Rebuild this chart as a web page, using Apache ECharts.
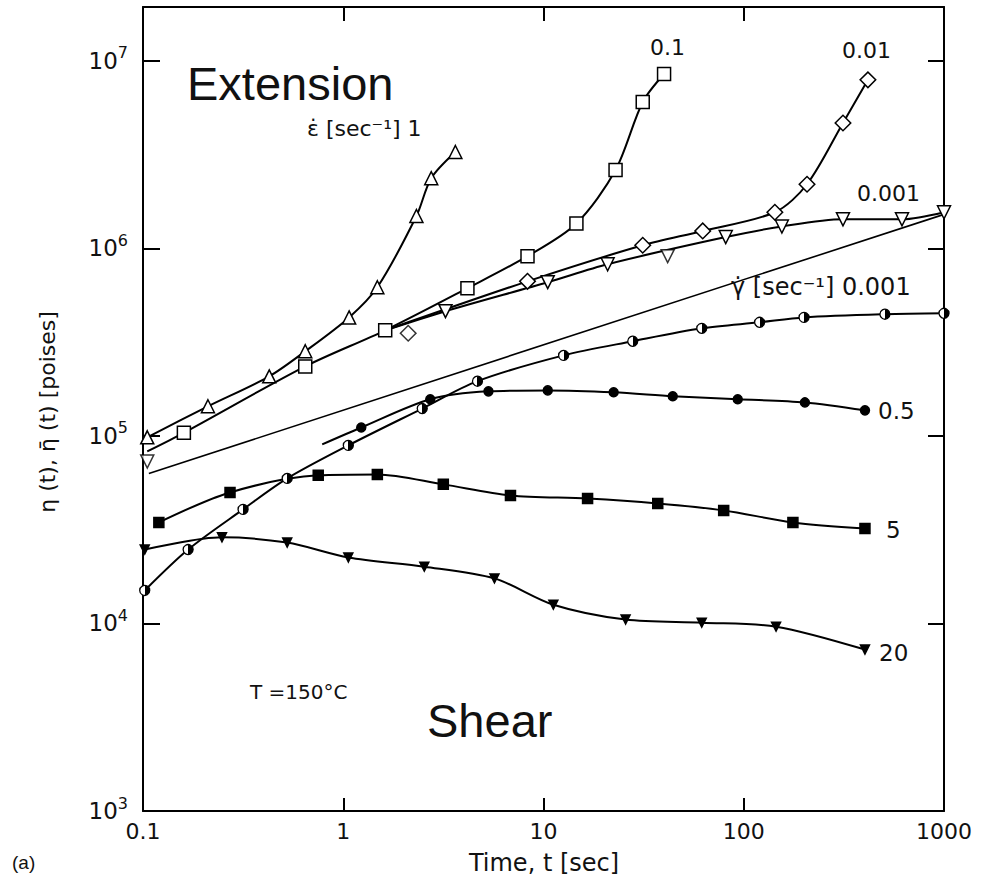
<!DOCTYPE html>
<html>
<head>
<meta charset="utf-8">
<style>
  html, body { margin: 0; padding: 0; background: #fff; }
  #viscosity_chart { width: 990px; height: 878px; }
</style>
<script src="https://cdn.jsdelivr.net/npm/echarts@6.0.0/dist/echarts.min.js"></script>
</head>
<body>
<div id="viscosity_chart"></div>
<script>
// extension, rate 1 sec-1 (open up triangles)
const ext1Time = [0.105, 0.211, 0.427, 0.646, 1.07, 1.48, 2.32, 2.75, 3.63];
const ext1Visc = [9.84e4, 1.44e5, 2.08e5, 2.83e5, 4.29e5, 6.21e5, 1.49e6, 2.37e6, 3.27e6];

// extension, rate 0.1 (open squares), line starts on the common envelope
const ext01Start = [0.105, 8.28e4];
const ext01Time = [0.160, 0.646, 1.62, 4.17, 8.32, 14.6, 22.9, 31.3, 40.0];
const ext01Visc = [1.04e5, 2.35e5, 3.66e5, 6.14e5, 9.10e5, 1.36e6, 2.62e6, 6.04e6, 8.52e6];

// extension, rate 0.01 (open diamonds)
const ext001Start = [1.62, 3.66e5];
const ext001Time = [8.32, 31.3, 62.4, 143, 207, 313, 417];
const ext001Visc = [6.68e5, 1.04e6, 1.24e6, 1.56e6, 2.20e6, 4.67e6, 7.93e6];
const ext001LoneTime = [2.11];
const ext001LoneVisc = [3.53e5];

// extension, rate 0.001 (open down triangles)
const ext0001Start = [1.62, 3.66e5];
const ext0001Time = [3.24, 10.5, 20.9, 81.3, 155, 313, 617, 1000];
const ext0001Visc = [4.63e5, 6.61e5, 8.24e5, 1.15e6, 1.31e6, 1.43e6, 1.43e6, 1.56e6];
const ext0001LoneTime = [0.105, 41.7];
const ext0001LoneVisc = [7.31e4, 9.10e5];

// shear, rate 0.001 (half filled circles)
const sh0001Time = [0.102, 0.168, 0.316, 0.525, 1.06, 2.48, 4.68, 12.6, 27.9, 61.7, 120, 200, 507, 1000];
const sh0001Visc = [1.50e4, 2.48e4, 4.06e4, 5.94e4, 8.91e4, 1.40e5, 1.96e5, 2.69e5, 3.20e5, 3.75e5, 4.04e5, 4.29e5, 4.46e5, 4.51e5];

// shear, rate 0.5 (filled circles)
const sh05Start = [0.785, 9.02e4];
const sh05Time = [1.23, 2.72, 5.31, 10.5, 22.4, 44.2, 93.3, 202, 403];
const sh05Visc = [1.11e5, 1.57e5, 1.73e5, 1.75e5, 1.71e5, 1.63e5, 1.57e5, 1.51e5, 1.37e5];

// shear, rate 5 (filled squares)
const sh5Time = [0.120, 0.272, 0.750, 1.48, 3.16, 6.84, 16.6, 37.2, 79.4, 176, 403];
const sh5Visc = [3.46e4, 5.00e4, 6.17e4, 6.24e4, 5.52e4, 4.82e4, 4.64e4, 4.37e4, 4.01e4, 3.46e4, 3.21e4];

// shear, rate 20 (filled down triangles)
const sh20Time = [0.102, 0.248, 0.525, 1.06, 2.54, 5.69, 11.2, 25.7, 61.7, 145, 403];
const sh20Visc = [2.48e4, 2.88e4, 2.70e4, 2.25e4, 2.01e4, 1.74e4, 1.26e4, 1.05e4, 1.01e4, 9.62e3, 7.26e3];

// straight guide line
const guideTime = [0.107, 1000];
const guideVisc = [6.31e4, 1.52e6];

const xTicks = [0.1, 1, 10, 100, 1000];

function pairs(ts, vs) {
  return ts.map(function (t, i) { return [t, vs[i]]; });
}
function withStart(start, ts, vs) {
  return [{ value: start, symbol: 'none' }].concat(pairs(ts, vs));
}

const FONT = 'DejaVu Sans';
const halfFill = new echarts.graphic.LinearGradient(0, 0, 1, 0, [
  { offset: 0, color: '#fff' }, { offset: 0.5, color: '#fff' },
  { offset: 0.5, color: '#000' }, { offset: 1, color: '#000' }
]);

function curve(data, symbol, size, fill, extra) {
  return Object.assign({
    type: 'line',
    data: data,
    smooth: 0.3,
    symbol: symbol,
    symbolSize: size,
    showAllSymbol: true,
    lineStyle: { color: '#000', width: 2 },
    itemStyle: { color: fill, borderColor: '#000', borderWidth: 1.5 },
    emphasis: { disabled: true },
    z: 3
  }, extra || {});
}
function lone(data, symbol, size, extra) {
  return Object.assign({
    type: 'scatter',
    data: data,
    symbol: symbol,
    symbolSize: size,
    itemStyle: { color: '#fff', borderColor: '#000', borderWidth: 1.5 },
    z: 4
  }, extra || {});
}

var dom = document.getElementById('viscosity_chart');
var myChart = echarts.init(dom, null, { renderer: 'svg' });

function txt(x, y, text, size, family, align) {
  return {
    type: 'text', x: x, y: y, z: 10,
    style: {
      text: text, fill: '#111',
      font: size + 'px "' + (family || FONT) + '"',
      textAlign: align || 'left', textVerticalAlign: 'middle'
    }
  };
}

var option = {
  animation: false,
  backgroundColor: '#fff',
  grid: { left: 143, right: 46, top: 7, bottom: 67 },
  xAxis: [
    {
      type: 'log', logBase: 10, min: 0.1, max: 1000,
      axisLine: { lineStyle: { color: '#000', width: 2 } },
      axisTick: { inside: true, length: 13, lineStyle: { color: '#000', width: 2 } },
      splitLine: { show: false },
      axisLabel: {
        fontFamily: FONT, fontSize: 22, color: '#111', margin: 9,
        formatter: function (v) {
          return xTicks.some(function (k) { return Math.abs(k - v) < 1e-9 * k; }) ? String(v) : '';
        }
      }
    },
    {
      type: 'log', logBase: 10, min: 0.1, max: 1000, position: 'top',
      axisLine: { lineStyle: { color: '#000', width: 2 } },
      axisTick: { inside: true, length: 14, lineStyle: { color: '#000', width: 2 } },
      axisLabel: { show: false },
      splitLine: { show: false }
    }
  ],
  yAxis: [
    {
      type: 'log', logBase: 10, min: 1000, max: 1.94e7,
      axisLine: { lineStyle: { color: '#000', width: 2 } },
      axisTick: { inside: true, length: 17, lineStyle: { color: '#000', width: 2 } },
      splitLine: { show: false },
      axisLabel: {
        margin: 15, color: '#111',
        formatter: function (v) {
          var e = Math.log10(v);
          if (Math.abs(e - Math.round(e)) > 1e-6) return '';
          return '{b|10}{s|' + Math.round(e) + '}';
        },
        rich: {
          b: { fontFamily: FONT, fontSize: 23, color: '#111' },
          s: { fontFamily: FONT, fontSize: 16, color: '#111', padding: [0, 0, 16, 0] }
        }
      }
    },
    {
      type: 'log', logBase: 10, min: 1000, max: 1.94e7, position: 'right',
      axisLine: { lineStyle: { color: '#000', width: 2 } },
      axisTick: { inside: true, length: 16, lineStyle: { color: '#000', width: 2 } },
      axisLabel: { show: false },
      splitLine: { show: false }
    }
  ],
  series: [
    {
      type: 'line', data: pairs(guideTime, guideVisc), symbol: 'none',
      lineStyle: { color: '#000', width: 1.6 }, z: 2
    },
    curve(pairs(ext1Time, ext1Visc), 'triangle', 13, '#fff'),
    curve(withStart(ext01Start, ext01Time, ext01Visc), 'rect', 13, '#fff'),
    curve(withStart(ext001Start, ext001Time, ext001Visc), 'rect', 11, '#fff', { symbolRotate: 45 }),
    lone(pairs(ext001LoneTime, ext001LoneVisc), 'rect', 11, { symbolRotate: 45 }),
    curve(withStart(ext0001Start, ext0001Time, ext0001Visc), 'triangle', 13, '#fff', { symbolRotate: 180 }),
    lone(pairs(ext0001LoneTime, ext0001LoneVisc), 'triangle', 13, { symbolRotate: 180 }),
    curve(pairs(sh0001Time, sh0001Visc), 'circle', 10, halfFill, { itemStyle: { color: halfFill, borderColor: '#000', borderWidth: 1.3 } }),
    curve(withStart(sh05Start, sh05Time, sh05Visc), 'circle', 9, '#000'),
    curve(pairs(sh5Time, sh5Visc), 'rect', 10, '#000'),
    curve(pairs(sh20Time, sh20Visc), 'triangle', 9, '#000', { symbolRotate: 180 })
  ],
  graphic: [
    txt(187, 83, 'Extension', 47, 'Liberation Sans'),
    txt(427, 720, 'Shear', 47, 'Liberation Sans'),
    txt(307, 128, 'ε̇ [sec⁻¹] 1', 22),
    txt(650, 47, '0.1', 22),
    txt(842, 50, '0.01', 22),
    txt(857, 193, '0.001', 22),
    txt(731, 287, 'γ̇ [sec⁻¹] 0.001', 24),
    txt(878, 411, '0.5', 23),
    txt(886, 530, '5', 23),
    txt(879, 653, '20', 23),
    txt(250, 692, 'T =150°C', 20),
    txt(544, 863, 'Time, t [sec]', 24, FONT, 'center'),
    txt(12, 862, '(a)', 19, 'Liberation Sans'),
    {
      type: 'text', x: 47, y: 412, rotation: Math.PI / 2, z: 10,
      style: {
        text: 'η (t), η̄ (t) [poises]', fill: '#111',
        font: '22px "' + FONT + '"', textAlign: 'center', textVerticalAlign: 'middle'
      }
    }
  ]
};

if (option && typeof option === 'object') {
  myChart.setOption(option);
}

window.addEventListener('resize', myChart.resize);
</script>
</body>
</html>
